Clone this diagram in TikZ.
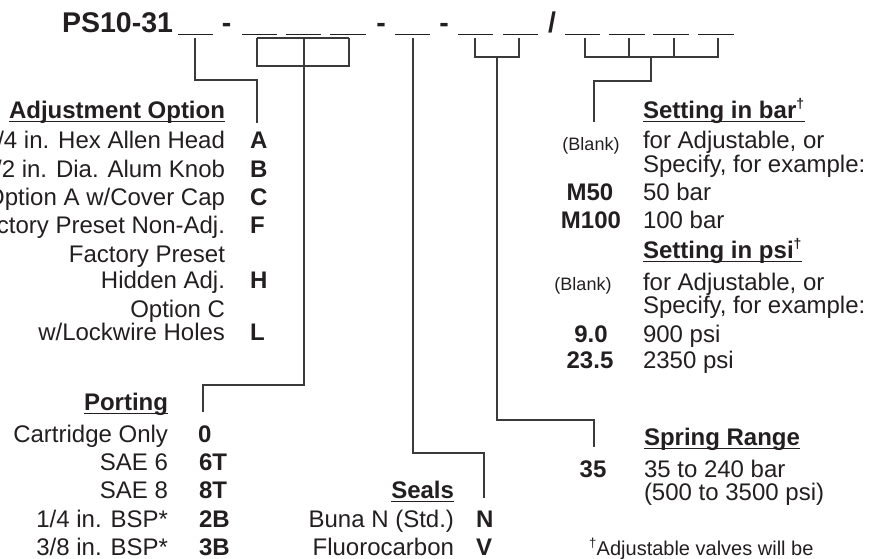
\documentclass[tikz,border=0pt]{standalone}
\usepackage{fontspec}
\setmainfont{Liberation Sans}
\definecolor{ink}{HTML}{231F20}
\definecolor{wirec}{HTML}{3A3A3A}
\newcommand\ulh[1]{\setbox0\hbox{#1}\rlap{\rule[-4pt]{\wd0}{1.4pt}}\box0}
\newcommand\dg{\textsuperscript{\fontsize{14}{14}\selectfont\textdagger}}
\tikzset{
  txt/.style={inner sep=0pt, outer sep=0pt, text=ink, font=\fontsize{24}{28}\selectfont},
  lbl/.style={txt, anchor=base east},
  val/.style={txt, anchor=base west},
  code/.style={txt, font=\fontsize{24}{28}\selectfont\bfseries, anchor=base west},
  ccode/.style={txt, font=\fontsize{24}{28}\selectfont\bfseries, anchor=base},
  blankc/.style={txt, font=\fontsize{18}{20}\selectfont, anchor=base},
  headl/.style={txt, font=\fontsize{24}{28}\selectfont\bfseries, anchor=base east},
  headr/.style={txt, font=\fontsize{24}{28}\selectfont\bfseries, anchor=base west},
  title/.style={txt, font=\fontsize{28.5}{30}\selectfont\bfseries, anchor=base},
  wire/.style={draw=wirec, line width=1.4pt},
  slot/.style={draw=ink, line width=1.9pt},
}
\begin{document}
\begin{tikzpicture}[x=1pt,y=-1pt]
\useasboundingbox (0,0) rectangle (879,558);
\clip (0,0) rectangle (879,558);

% ---------- title ----------
\node[title, anchor=base east] (ps) at (173,32) {PS10-31};
\node[title] (d1) at (226.5,32) {-};
\node[title] (d2) at (381,32) {-};
\node[title] (d3) at (444,32) {-};
\node[title] (sl) at (552,32) {/};

% blanks: (left,right)
\foreach \n/\a/\b in {s1/178/213, s2/242/277, s3/286/321, s4/330/366, s5/395/430,
                      s6/458/493, s7/503/538, s8/565/600, s9/609/645, s10/653/689, s11/698/734}{
  \coordinate (\n W) at (\a,34.5);
  \coordinate (\n E) at (\b,34.5);
  \draw[slot] (\n W) -- (\n E);
}
% tick tops
\coordinate (t1) at (195,38);
\coordinate (t2) at (257,38);
\coordinate (t3) at (304,38);
\coordinate (t4) at (349,38);
\coordinate (t5) at (413,38);
\coordinate (t6) at (475,38);
\coordinate (t7) at (519,38);
\coordinate (t8) at (585,38);
\coordinate (t9) at (629,38);
\coordinate (t10) at (674,38);
\coordinate (t11) at (718,38);

% ---------- Adjustment Option ----------
\node[headl] (adjh) at (225,118) {\ulh{Adjustment Option}};
\node[lbl] (a1) at (225,148) {1/4 in. Hex Allen Head};
\node[code] (ca) at (250,148) {A};
\node[lbl] (a2) at (225,177) {1/2 in. Dia. Alum Knob};
\node[code] (cb) at (250,177) {B};
\node[lbl] (a3) at (225,205) {Option A w/Cover Cap};
\node[code] (cc) at (250,205) {C};
\node[lbl] (a4) at (225,233) {Factory Preset Non-Adj.};
\node[code] (cf) at (250,233) {F};
\node[lbl] (a5) at (225,262) {Factory Preset};
\node[lbl] (a6) at (225,288) {Hidden Adj.};
\node[code] (ch) at (250,288) {H};
\node[lbl] (a7) at (225,317) {Option C};
\node[lbl] (a8) at (225,340) {w/Lockwire Holes};
\node[code] (cl) at (250,340) {L};
\coordinate (adjend) at (257,123);
\draw[wire] (t1) |- (257,80) -- (adjend);

% ---------- Porting ----------
\node[headl] (porth) at (168,410) {\ulh{Porting}};
\node[lbl] (p1) at (168,442) {Cartridge Only};
\node[code] (p0) at (198,442) {0};
\node[lbl] (p2) at (168,470) {SAE 6};
\node[code] (p6) at (199,470) {6T};
\node[lbl] (p3) at (168,498) {SAE 8};
\node[code] (p8) at (199,498) {8T};
\node[lbl] (p4) at (168,527) {1/4 in. BSP*};
\node[code] (p2b) at (199,527) {2B};
\node[lbl] (p5) at (168,555) {3/8 in. BSP*};
\node[code] (p3b) at (199,555) {3B};
\coordinate (portend) at (203,412);
\draw[wire] (t2) |- (t4) -- (t4);
\draw[wire] (t2) -- (257,66) -- (349,66) -- (t4);
\draw[wire] (t3) -- (304,385) -| (portend);

% ---------- Seals ----------
\node[headl] (sealh) at (454,498) {\ulh{Seals}};
\node[lbl] (e1) at (454,527) {Buna N (Std.)};
\node[code] (en) at (476,527) {N};
\node[lbl] (e2) at (454,555) {Fluorocarbon};
\node[code] (ev) at (476,555) {V};
\coordinate (sealend) at (484,498);
\draw[wire] (t5) |- (484,453) -- (sealend);

% ---------- Spring Range ----------
\node[headr] (sprh) at (644,445) {\ulh{Spring Range}};
\node[ccode] (s35) at (593,477) {35};
\node[val] (r1) at (644,477) {35 to 240 bar};
\node[val] (r2) at (644,500) {(500 to 3500 psi)};
\coordinate (sprend) at (594,447);
\draw[wire] (t6) |- (519,57) -- (t7);
\draw[wire] (497,57) |- (594,420) -- (sprend);

% ---------- Setting ----------
\node[headr] (bh) at (643,118) {\ulh{Setting in bar\dg}};
\node[blankc] (bb1) at (591,150) {(Blank)};
\node[val] (b1) at (643,148) {for Adjustable, or};
\node[val] (b2) at (643,172) {Specify, for example:};
\node[ccode] (m50) at (590,200) {M50};
\node[val] (b3) at (643,200) {50 bar};
\node[ccode] (m100) at (591,228) {M100};
\node[val] (b4) at (643,228) {100 bar};
\node[headr] (ph) at (643,258) {\ulh{Setting in psi\dg}};
\node[blankc] (bb2) at (583,290) {(Blank)};
\node[val] (q1) at (643,290) {for Adjustable, or};
\node[val] (q2) at (643,313) {Specify, for example:};
\node[ccode] (v9) at (591,342) {9.0};
\node[val] (q3) at (643,342) {900 psi};
\node[ccode] (v23) at (590,368) {23.5};
\node[val] (q4) at (643,368) {2350 psi};
\coordinate (setend) at (594,122);
\draw[wire] (t8) |- (718,57) -- (t11);
\draw[wire] (t9) -- (629,57);
\draw[wire] (t10) -- (674,57);
\draw[wire] (651,57) |- (594,81) -- (setend);

% ---------- footnote ----------
\node[txt, font=\fontsize{20}{24}\selectfont, anchor=base west] (fn) at (589,555) {\textsuperscript{\fontsize{13}{13}\selectfont\textdagger}Adjustable valves will be};
\end{tikzpicture}
\end{document}
